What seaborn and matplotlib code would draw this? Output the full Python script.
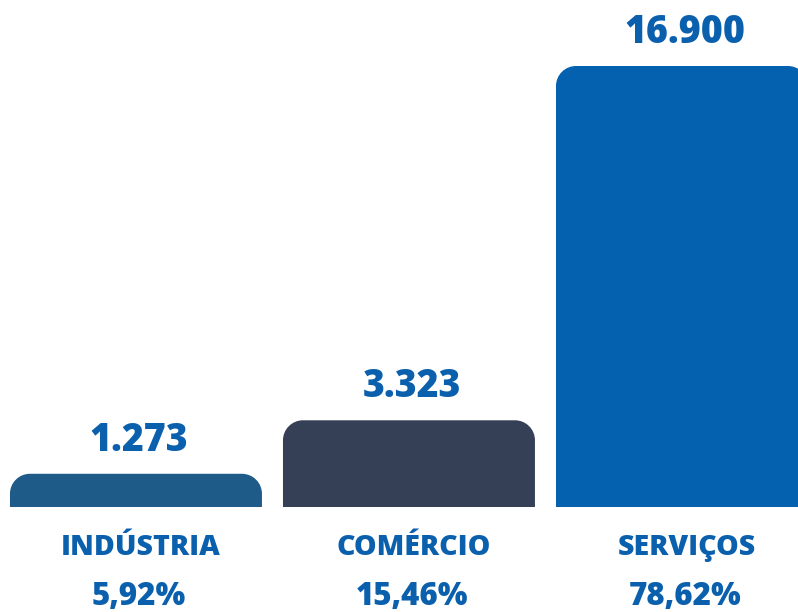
import matplotlib
matplotlib.use("Agg")
import matplotlib.pyplot as plt
import seaborn as sns
from matplotlib.path import Path
from matplotlib.patches import PathPatch
from matplotlib.transforms import IdentityTransform

categorias = ["INDÚSTRIA", "COMÉRCIO", "SERVIÇOS"]
valores = [1273, 3323, 16900]
rotulos_valor = ["1.273", "3.323", "16.900"]
percentuais = ["5,92%", "15,46%", "78,62%"]
cores = ["#1f5b88", "#353f56", "#0461af"]
cor_texto = "#0b60ad"

sns.set_theme(style="white")
plt.rcParams["font.family"] = ["Open Sans", "DejaVu Sans"]

W, H, DPI = 798, 612, 100
fig = plt.figure(figsize=(W / DPI, H / DPI), dpi=DPI)
base_px = 507
ax = fig.add_axes([0, (H - base_px) / H, 1, base_px / H])

sns.barplot(x=categorias, y=valores, hue=categorias, palette=cores,
            saturation=1, legend=False, width=0.923, ax=ax)
ax.set_xlim(-0.498, 2.425)
ax.set_ylim(0, 16900 * base_px / 441)
ax.axis("off")

# replace bars with rounded-top versions
r = 20
patches = list(ax.patches)
for p in patches:
    x0, y0 = p.get_x(), p.get_y()
    x1, y1 = x0 + p.get_width(), y0 + p.get_height()
    (dx0, dy0) = ax.transData.transform((x0, y0))
    (dx1, dy1) = ax.transData.transform((x1, y1))
    k = 0.5523 * r
    verts = [(dx0, dy0), (dx0, dy1 - r),
             (dx0, dy1 - r + k), (dx0 + r - k, dy1), (dx0 + r, dy1),
             (dx1 - r, dy1),
             (dx1 - r + k, dy1), (dx1, dy1 - r + k), (dx1, dy1 - r),
             (dx1, dy0), (dx0, dy0)]
    codes = [Path.MOVETO, Path.LINETO,
             Path.CURVE4, Path.CURVE4, Path.CURVE4,
             Path.LINETO,
             Path.CURVE4, Path.CURVE4, Path.CURVE4,
             Path.LINETO, Path.CLOSEPOLY]
    fc = p.get_facecolor()
    p.remove()
    fig.patches.append(PathPatch(Path(verts, codes), facecolor=fc, edgecolor="none",
                                 transform=IdentityTransform(), figure=fig))

fw = 800
for i, (v, lab, cat, pct) in enumerate(zip(valores, rotulos_valor, categorias, percentuais)):
    ax.annotate(lab, xy=(i, v), xytext=(3, 23), textcoords="offset pixels",
                ha="center", va="baseline", fontsize=27, fontweight=fw,
                color=cor_texto, annotation_clip=False)
    ax.annotate(cat, xy=(i, 0), xytext=(5, -48), textcoords="offset pixels",
                ha="center", va="baseline", fontsize=20.5, fontweight=fw,
                color=cor_texto, annotation_clip=False)
    ax.annotate(pct, xy=(i, 0), xytext=(3, -98), textcoords="offset pixels",
                ha="center", va="baseline", fontsize=22.5, fontweight=fw,
                color=cor_texto, annotation_clip=False)

fig.savefig("out.png", dpi=DPI, facecolor="white")
